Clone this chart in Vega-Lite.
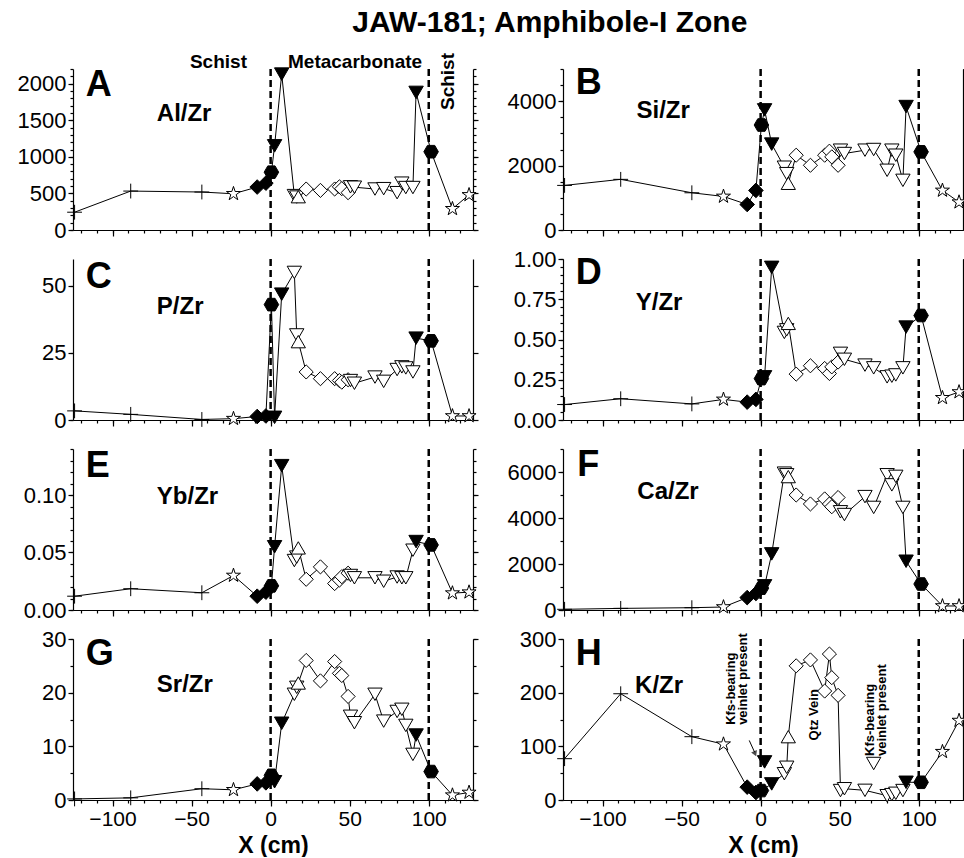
{
"$schema": "https://vega.github.io/schema/vega-lite/v6.json",
"padding": {"left": 17, "top": 7, "right": 0, "bottom": 0},
"title": {"text": "JAW-181; Amphibole-I Zone", "font": "Liberation Sans", "fontSize": 30, "fontWeight": "bold", "anchor": "middle", "dx": 57, "color": "black", "offset": 15},
"config": {"view": {"stroke": null}, "font": "Liberation Sans", "axis": {"grid": false, "domainColor": "black", "tickColor": "black", "labelColor": "black", "titleColor": "black", "labelFont": "Liberation Sans", "titleFont": "Liberation Sans", "labelFontSize": 22, "tickWidth": 1.2, "domainWidth": 1.2, "labelPadding": 2}},
"bounds": "flush",
"columns": 2,
"spacing": {"row": 29, "column": 90},
"datasets": {"d": [
{"p":"A","x":-124,"v":243,"m":"plus"},{"p":"A","x":-88.5,"v":532,"m":"plus"},{"p":"A","x":-43.5,"v":519,"m":"plus"},{"p":"A","x":-23.5,"v":495,"m":"star"},{"p":"A","x":-8.5,"v":587,"m":"fdia"},{"p":"A","x":-3,"v":640,"m":"fdia"},{"p":"A","x":0.5,"v":790,"m":"hex"},{"p":"A","x":2.5,"v":1150,"m":"ftri"},{"p":"A","x":7,"v":2130,"m":"ftri"},{"p":"A","x":15,"v":470,"m":"otri"},{"p":"A","x":16.5,"v":450,"m":"otri"},{"p":"A","x":17.5,"v":455,"m":"otriu"},{"p":"A","x":22.5,"v":560,"m":"odia"},{"p":"A","x":31.5,"v":541,"m":"odia"},{"p":"A","x":40.5,"v":560,"m":"odia"},{"p":"A","x":43.5,"v":590,"m":"odia"},{"p":"A","x":45,"v":565,"m":"odia"},{"p":"A","x":49,"v":510,"m":"odia"},{"p":"A","x":50.5,"v":590,"m":"otri"},{"p":"A","x":53,"v":585,"m":"otri"},{"p":"A","x":66,"v":560,"m":"otri"},{"p":"A","x":71.5,"v":565,"m":"otri"},{"p":"A","x":80,"v":510,"m":"otri"},{"p":"A","x":83,"v":640,"m":"otri"},{"p":"A","x":85.5,"v":580,"m":"otri"},{"p":"A","x":90,"v":580,"m":"otri"},{"p":"A","x":92,"v":1880,"m":"ftri"},{"p":"A","x":101.5,"v":1070,"m":"hex"},{"p":"A","x":115,"v":290,"m":"star"},{"p":"A","x":125.5,"v":480,"m":"star"},
{"p":"B","x":-124,"v":1385,"m":"plus"},{"p":"B","x":-88.5,"v":1573,"m":"plus"},{"p":"B","x":-43.5,"v":1156,"m":"plus"},{"p":"B","x":-23.5,"v":1042,"m":"star"},{"p":"B","x":-8.5,"v":792,"m":"fdia"},{"p":"B","x":-3,"v":1229,"m":"fdia"},{"p":"B","x":0.5,"v":3260,"m":"hex"},{"p":"B","x":2.5,"v":3730,"m":"ftri"},{"p":"B","x":7,"v":2667,"m":"ftri"},{"p":"B","x":15,"v":1950,"m":"otri"},{"p":"B","x":16.5,"v":1750,"m":"otri"},{"p":"B","x":17.5,"v":1450,"m":"otriu"},{"p":"B","x":22.5,"v":2323,"m":"odia"},{"p":"B","x":31.5,"v":2010,"m":"odia"},{"p":"B","x":40.5,"v":2323,"m":"odia"},{"p":"B","x":43.5,"v":2448,"m":"odia"},{"p":"B","x":45,"v":2271,"m":"odia"},{"p":"B","x":49,"v":2010,"m":"odia"},{"p":"B","x":50.5,"v":2479,"m":"otri"},{"p":"B","x":53,"v":2375,"m":"otri"},{"p":"B","x":66,"v":2479,"m":"otri"},{"p":"B","x":71.5,"v":2500,"m":"otri"},{"p":"B","x":80,"v":1854,"m":"otri"},{"p":"B","x":83,"v":2479,"m":"otri"},{"p":"B","x":85.5,"v":2323,"m":"otri"},{"p":"B","x":90,"v":1542,"m":"otri"},{"p":"B","x":92,"v":3833,"m":"ftri"},{"p":"B","x":101.5,"v":2427,"m":"hex"},{"p":"B","x":115,"v":1229,"m":"star"},{"p":"B","x":125.5,"v":865,"m":"star"},
{"p":"C","x":-124,"v":3.4,"m":"plus"},{"p":"C","x":-88.5,"v":2.1,"m":"plus"},{"p":"C","x":-43.5,"v":0.2,"m":"plus"},{"p":"C","x":-23.5,"v":0.5,"m":"star"},{"p":"C","x":-8.5,"v":1.3,"m":"fdia"},{"p":"C","x":-3,"v":1.5,"m":"fdia"},{"p":"C","x":0.5,"v":43,"m":"hex"},{"p":"C","x":2.5,"v":1.0,"m":"ftri"},{"p":"C","x":7,"v":46.9,"m":"ftri"},{"p":"C","x":15,"v":55,"m":"otri"},{"p":"C","x":16.5,"v":31.7,"m":"otri"},{"p":"C","x":17.5,"v":29.2,"m":"otriu"},{"p":"C","x":22.5,"v":17.9,"m":"odia"},{"p":"C","x":31.5,"v":15.4,"m":"odia"},{"p":"C","x":40.5,"v":15.4,"m":"odia"},{"p":"C","x":43.5,"v":14.7,"m":"odia"},{"p":"C","x":45,"v":14.1,"m":"odia"},{"p":"C","x":49,"v":15.0,"m":"odia"},{"p":"C","x":50.5,"v":14.7,"m":"otri"},{"p":"C","x":53,"v":13.7,"m":"otri"},{"p":"C","x":66,"v":16.0,"m":"otri"},{"p":"C","x":71.5,"v":14.4,"m":"otri"},{"p":"C","x":80,"v":18.8,"m":"otri"},{"p":"C","x":83,"v":19.8,"m":"otri"},{"p":"C","x":85.5,"v":19.4,"m":"otri"},{"p":"C","x":90,"v":17.9,"m":"otri"},{"p":"C","x":92,"v":30.5,"m":"ftri"},{"p":"C","x":101.5,"v":29.5,"m":"hex"},{"p":"C","x":115,"v":1.5,"m":"star"},{"p":"C","x":125.5,"v":1.5,"m":"star"},
{"p":"D","x":-124,"v":0.096,"m":"plus"},{"p":"D","x":-88.5,"v":0.132,"m":"plus"},{"p":"D","x":-43.5,"v":0.10,"m":"plus"},{"p":"D","x":-23.5,"v":0.128,"m":"star"},{"p":"D","x":-8.5,"v":0.111,"m":"fdia"},{"p":"D","x":-3,"v":0.128,"m":"fdia"},{"p":"D","x":0.5,"v":0.257,"m":"hex"},{"p":"D","x":2.5,"v":0.268,"m":"ftri"},{"p":"D","x":7,"v":0.948,"m":"ftri"},{"p":"D","x":15,"v":0.544,"m":"otri"},{"p":"D","x":16.5,"v":0.56,"m":"otri"},{"p":"D","x":17.5,"v":0.60,"m":"otriu"},{"p":"D","x":22.5,"v":0.285,"m":"odia"},{"p":"D","x":31.5,"v":0.337,"m":"odia"},{"p":"D","x":40.5,"v":0.32,"m":"odia"},{"p":"D","x":43.5,"v":0.289,"m":"odia"},{"p":"D","x":45,"v":0.33,"m":"odia"},{"p":"D","x":49,"v":0.36,"m":"odia"},{"p":"D","x":50.5,"v":0.414,"m":"otri"},{"p":"D","x":53,"v":0.377,"m":"otri"},{"p":"D","x":66,"v":0.341,"m":"otri"},{"p":"D","x":71.5,"v":0.324,"m":"otri"},{"p":"D","x":80,"v":0.268,"m":"otri"},{"p":"D","x":83,"v":0.272,"m":"otri"},{"p":"D","x":85.5,"v":0.28,"m":"otri"},{"p":"D","x":90,"v":0.324,"m":"otri"},{"p":"D","x":92,"v":0.577,"m":"ftri"},{"p":"D","x":101.5,"v":0.649,"m":"hex"},{"p":"D","x":115,"v":0.138,"m":"star"},{"p":"D","x":125.5,"v":0.174,"m":"star"},
{"p":"E","x":-124,"v":0.012,"m":"plus"},{"p":"E","x":-88.5,"v":0.0185,"m":"plus"},{"p":"E","x":-43.5,"v":0.015,"m":"plus"},{"p":"E","x":-23.5,"v":0.030,"m":"star"},{"p":"E","x":-8.5,"v":0.012,"m":"fdia"},{"p":"E","x":-3,"v":0.0155,"m":"fdia"},{"p":"E","x":0.5,"v":0.021,"m":"hex"},{"p":"E","x":2.5,"v":0.055,"m":"ftri"},{"p":"E","x":7,"v":0.1255,"m":"ftri"},{"p":"E","x":15,"v":0.043,"m":"otri"},{"p":"E","x":16.5,"v":0.046,"m":"otri"},{"p":"E","x":17.5,"v":0.054,"m":"otriu"},{"p":"E","x":22.5,"v":0.0267,"m":"odia"},{"p":"E","x":31.5,"v":0.0375,"m":"odia"},{"p":"E","x":40.5,"v":0.023,"m":"odia"},{"p":"E","x":43.5,"v":0.026,"m":"odia"},{"p":"E","x":45,"v":0.029,"m":"odia"},{"p":"E","x":49,"v":0.032,"m":"odia"},{"p":"E","x":50.5,"v":0.030,"m":"otri"},{"p":"E","x":53,"v":0.028,"m":"otri"},{"p":"E","x":66,"v":0.028,"m":"otri"},{"p":"E","x":71.5,"v":0.025,"m":"otri"},{"p":"E","x":80,"v":0.0287,"m":"otri"},{"p":"E","x":83,"v":0.028,"m":"otri"},{"p":"E","x":85.5,"v":0.028,"m":"otri"},{"p":"E","x":90,"v":0.052,"m":"otri"},{"p":"E","x":92,"v":0.0595,"m":"ftri"},{"p":"E","x":101.5,"v":0.0566,"m":"hex"},{"p":"E","x":115,"v":0.0147,"m":"star"},{"p":"E","x":125.5,"v":0.0155,"m":"star"},
{"p":"F","x":-124,"v":30,"m":"plus"},{"p":"F","x":-88.5,"v":70,"m":"plus"},{"p":"F","x":-43.5,"v":100,"m":"plus"},{"p":"F","x":-23.5,"v":130,"m":"star"},{"p":"F","x":-8.5,"v":540,"m":"fdia"},{"p":"F","x":-3,"v":717,"m":"fdia"},{"p":"F","x":0.5,"v":950,"m":"hex"},{"p":"F","x":2.5,"v":1050,"m":"ftri"},{"p":"F","x":7,"v":2440,"m":"ftri"},{"p":"F","x":15,"v":5950,"m":"otri"},{"p":"F","x":16.5,"v":5880,"m":"otri"},{"p":"F","x":17.5,"v":5800,"m":"otriu"},{"p":"F","x":22.5,"v":5000,"m":"odia"},{"p":"F","x":31.5,"v":4610,"m":"odia"},{"p":"F","x":40.5,"v":4830,"m":"odia"},{"p":"F","x":43.5,"v":4610,"m":"odia"},{"p":"F","x":45,"v":4490,"m":"odia"},{"p":"F","x":49,"v":4890,"m":"odia"},{"p":"F","x":50.5,"v":4270,"m":"otri"},{"p":"F","x":53,"v":4150,"m":"otri"},{"p":"F","x":66,"v":4930,"m":"otri"},{"p":"F","x":71.5,"v":4460,"m":"otri"},{"p":"F","x":80,"v":5880,"m":"otri"},{"p":"F","x":83,"v":5440,"m":"otri"},{"p":"F","x":85.5,"v":5810,"m":"otri"},{"p":"F","x":90,"v":4460,"m":"otri"},{"p":"F","x":92,"v":2120,"m":"ftri"},{"p":"F","x":101.5,"v":1130,"m":"hex"},{"p":"F","x":115,"v":175,"m":"star"},{"p":"F","x":125.5,"v":175,"m":"star"},
{"p":"G","x":-124,"v":0.2,"m":"plus"},{"p":"G","x":-88.5,"v":0.4,"m":"plus"},{"p":"G","x":-43.5,"v":2.1,"m":"plus"},{"p":"G","x":-23.5,"v":1.9,"m":"star"},{"p":"G","x":-8.5,"v":3.0,"m":"fdia"},{"p":"G","x":-3,"v":3.2,"m":"fdia"},{"p":"G","x":0.5,"v":4.6,"m":"hex"},{"p":"G","x":2.5,"v":3.4,"m":"ftri"},{"p":"G","x":7,"v":14.3,"m":"ftri"},{"p":"G","x":15,"v":19.7,"m":"otri"},{"p":"G","x":16.5,"v":21.0,"m":"otri"},{"p":"G","x":17.5,"v":21.8,"m":"otriu"},{"p":"G","x":22.5,"v":26,"m":"odia"},{"p":"G","x":31.5,"v":22.2,"m":"odia"},{"p":"G","x":40.5,"v":25.8,"m":"odia"},{"p":"G","x":43.5,"v":23.6,"m":"odia"},{"p":"G","x":45,"v":23.2,"m":"odia"},{"p":"G","x":49,"v":19.3,"m":"odia"},{"p":"G","x":50.5,"v":15.6,"m":"otri"},{"p":"G","x":53,"v":14.4,"m":"otri"},{"p":"G","x":66,"v":19.7,"m":"otri"},{"p":"G","x":71.5,"v":14.7,"m":"otri"},{"p":"G","x":80,"v":16.5,"m":"otri"},{"p":"G","x":83,"v":16.9,"m":"otri"},{"p":"G","x":85.5,"v":13.9,"m":"otri"},{"p":"G","x":90,"v":8.5,"m":"otri"},{"p":"G","x":92,"v":12.1,"m":"ftri"},{"p":"G","x":101.5,"v":5.3,"m":"hex"},{"p":"G","x":115,"v":0.9,"m":"star"},{"p":"G","x":125.5,"v":1.4,"m":"star"},
{"p":"H","x":-124,"v":77,"m":"plus"},{"p":"H","x":-88.5,"v":198,"m":"plus"},{"p":"H","x":-43.5,"v":118,"m":"plus"},{"p":"H","x":-23.5,"v":104,"m":"star"},{"p":"H","x":-8.5,"v":24,"m":"fdia"},{"p":"H","x":-3,"v":14,"m":"fdia"},{"p":"H","x":0.5,"v":17.6,"m":"hex"},{"p":"H","x":2.5,"v":71,"m":"ftri","iso":true},{"p":"H","x":7,"v":30,"m":"ftri"},{"p":"H","x":15,"v":49,"m":"otri"},{"p":"H","x":16.5,"v":61,"m":"otri"},{"p":"H","x":17.5,"v":118,"m":"otriu"},{"p":"H","x":22.5,"v":250,"m":"odia"},{"p":"H","x":31.5,"v":261,"m":"odia"},{"p":"H","x":40.5,"v":203,"m":"odia"},{"p":"H","x":43.5,"v":272,"m":"odia"},{"p":"H","x":45,"v":228,"m":"odia"},{"p":"H","x":49,"v":195,"m":"odia"},{"p":"H","x":50.5,"v":17.6,"m":"otri"},{"p":"H","x":53,"v":21,"m":"otri"},{"p":"H","x":66,"v":18,"m":"otri"},{"p":"H","x":71.5,"v":68,"m":"otri","iso":true},{"p":"H","x":80,"v":8,"m":"otri"},{"p":"H","x":83,"v":10,"m":"otri"},{"p":"H","x":85.5,"v":12.5,"m":"otri"},{"p":"H","x":90,"v":17.6,"m":"otri"},{"p":"H","x":92,"v":33,"m":"ftri"},{"p":"H","x":101.5,"v":33,"m":"hex"},{"p":"H","x":115,"v":90,"m":"star"},{"p":"H","x":125.5,"v":148,"m":"star"}
]},
"concat": [
{"width": 400, "height": 161, "data": {"name": "d"}, "resolve": {"axis": {"x": "independent", "y": "independent"}},
 "layer": [
  {"data": {"values": [{"b": 0}, {"b": 100}]}, "mark": {"type": "rule", "strokeDash": [7, 4], "strokeWidth": 2.5, "color": "black"}, "encoding": {"x": {"field": "b", "type": "quantitative", "scale": {"domain": [-125, 128], "nice": false, "zero": false}, "axis": null}}},
  {"transform": [{"filter": "datum.p == 'A' && !datum.iso"}], "mark": {"type": "line", "color": "black", "strokeWidth": 1}, "encoding": {"x": {"field": "x", "type": "quantitative", "scale": {"domain": [-125, 128], "nice": false, "zero": false}, "axis": {"orient": "bottom", "values": [-100, -50, 0, 50, 100], "labels": false, "title": null, "tickSize": 6}}, "y": {"field": "v", "type": "quantitative", "scale": {"domain": [0, 2200], "nice": false, "zero": false}, "axis": {"orient": "left", "values": [0, 500, 1000, 1500, 2000], "format": "d", "tickSize": 5, "title": null}}}},
  {"transform": [{"filter": "datum.p == 'A'"}], "mark": {"type": "point", "filled": true, "opacity": 1, "strokeWidth": 1}, "encoding": {"x": {"field": "x", "type": "quantitative", "scale": {"domain": [-125, 128], "nice": false, "zero": false}, "axis": {"orient": "bottom", "values": [-120,-110,-100,-90,-80,-70,-60,-50,-40,-30,-20,-10,0,10,20,30,40,50,60,70,80,90,100,110,120], "labels": false, "domain": false, "title": null, "tickSize": 3}}, "y": {"field": "v", "type": "quantitative", "scale": {"domain": [0, 2200], "nice": false, "zero": false}, "axis": {"orient": "left", "values": [0,100,200,300,400,500,600,700,800,900,1000,1100,1200,1300,1400,1500,1600,1700,1800,1900,2000,2100,2200], "labels": false, "domain": false, "tickSize": 3, "title": null}}, "shape": {"field": "m", "type": "nominal", "scale": {"domain": ["plus","star","fdia","hex","ftri","otri","otriu","odia"], "range": ["M-1,0L1,0M0,-1L0,1", "M0,-1L0.2245,-0.309L0.951,-0.309L0.3633,0.118L0.588,0.809L0,0.382L-0.588,0.809L-0.3633,0.118L-0.951,-0.309L-0.2245,-0.309Z", "diamond", "M-1,0L-0.5,-0.866L0.5,-0.866L1,0L0.5,0.866L-0.5,0.866Z", "triangle-down", "triangle-down", "triangle-up", "diamond"]}, "legend": null}, "fill": {"field": "m", "type": "nominal", "scale": {"domain": ["plus","star","fdia","hex","ftri","otri","otriu","odia"], "range": ["transparent","white","black","black","black","white","white","white"]}, "legend": null}, "size": {"field": "m", "type": "ordinal", "scale": {"domain": ["plus","star","fdia","hex","ftri","otri","otriu","odia"], "range": [220, 200, 150, 230, 210, 95, 95, 110]}, "legend": null}, "stroke": {"value": "black"}}},
  {"transform": [{"filter": "datum.p == 'A'"}], "mark": {"type": "point", "opacity": 0}, "encoding": {"x": {"field": "x", "type": "quantitative", "scale": {"domain": [-125, 128], "nice": false, "zero": false}, "axis": null}, "y": {"field": "v", "type": "quantitative", "scale": {"domain": [0, 2200], "nice": false, "zero": false}, "axis": {"orient": "right", "values": [0, 500, 1000, 1500, 2000], "labels": false, "tickSize": 5, "title": null}}}},
  {"transform": [{"filter": "datum.p == 'A'"}], "mark": {"type": "point", "opacity": 0}, "encoding": {"x": {"field": "x", "type": "quantitative", "scale": {"domain": [-125, 128], "nice": false, "zero": false}, "axis": null}, "y": {"field": "v", "type": "quantitative", "scale": {"domain": [0, 2200], "nice": false, "zero": false}, "axis": {"orient": "right", "values": [0,100,200,300,400,500,600,700,800,900,1000,1100,1200,1300,1400,1500,1600,1700,1800,1900,2000,2100,2200], "labels": false, "domain": false, "tickSize": 3, "title": null}}}},
  {"data": {"values": [{}]}, "mark": {"type": "text", "text": "A", "fontSize": 36, "fontWeight": "bold", "align": "left", "baseline": "alphabetic", "color": "black"}, "encoding": {"x": {"datum": -117, "axis": null}, "y": {"datum": 1831, "axis": null}}},
  {"data": {"values": [{}]}, "mark": {"type": "text", "text": "Al/Zr", "fontSize": 24, "fontWeight": "bold", "align": "left", "baseline": "alphabetic", "color": "black"}, "encoding": {"x": {"datum": -72, "axis": null}, "y": {"datum": 1489, "axis": null}}},
  {"data": {"values": [{}]}, "mark": {"type": "text", "text": "Schist", "fontSize": 19, "fontWeight": "bold", "align": "center", "baseline": "alphabetic", "color": "black"}, "encoding": {"x": {"datum": -33, "axis": null}, "y": {"datum": 2215, "axis": null}}},
  {"data": {"values": [{}]}, "mark": {"type": "text", "text": "Metacarbonate", "fontSize": 19, "fontWeight": "bold", "align": "center", "baseline": "alphabetic", "color": "black"}, "encoding": {"x": {"datum": 53.4, "axis": null}, "y": {"datum": 2215, "axis": null}}},
  {"data": {"values": [{}]}, "mark": {"type": "text", "text": "Schist", "fontSize": 19, "fontWeight": "bold", "align": "center", "baseline": "middle", "angle": 270, "color": "black"}, "encoding": {"x": {"datum": 112, "axis": null}, "y": {"datum": 2029, "axis": null}}}
 ]},
{"width": 400, "height": 161, "data": {"name": "d"}, "resolve": {"axis": {"x": "independent", "y": "independent"}},
 "layer": [
  {"data": {"values": [{"b": 0}, {"b": 100}]}, "mark": {"type": "rule", "strokeDash": [7, 4], "strokeWidth": 2.5, "color": "black"}, "encoding": {"x": {"field": "b", "type": "quantitative", "scale": {"domain": [-125, 128], "nice": false, "zero": false}, "axis": null}}},
  {"transform": [{"filter": "datum.p == 'B' && !datum.iso"}], "mark": {"type": "line", "color": "black", "strokeWidth": 1}, "encoding": {"x": {"field": "x", "type": "quantitative", "scale": {"domain": [-125, 128], "nice": false, "zero": false}, "axis": {"orient": "bottom", "values": [-100, -50, 0, 50, 100], "labels": false, "title": null, "tickSize": 6}}, "y": {"field": "v", "type": "quantitative", "scale": {"domain": [0, 5000], "nice": false, "zero": false}, "axis": {"orient": "left", "values": [0, 2000, 4000], "format": "d", "tickSize": 5, "title": null}}}},
  {"transform": [{"filter": "datum.p == 'B'"}], "mark": {"type": "point", "filled": true, "opacity": 1, "strokeWidth": 1}, "encoding": {"x": {"field": "x", "type": "quantitative", "scale": {"domain": [-125, 128], "nice": false, "zero": false}, "axis": {"orient": "bottom", "values": [-120,-110,-100,-90,-80,-70,-60,-50,-40,-30,-20,-10,0,10,20,30,40,50,60,70,80,90,100,110,120], "labels": false, "domain": false, "title": null, "tickSize": 3}}, "y": {"field": "v", "type": "quantitative", "scale": {"domain": [0, 5000], "nice": false, "zero": false}, "axis": {"orient": "left", "values": [0,500,1000,1500,2000,2500,3000,3500,4000,4500,5000], "labels": false, "domain": false, "tickSize": 3, "title": null}}, "shape": {"field": "m", "type": "nominal", "scale": {"domain": ["plus","star","fdia","hex","ftri","otri","otriu","odia"], "range": ["M-1,0L1,0M0,-1L0,1", "M0,-1L0.2245,-0.309L0.951,-0.309L0.3633,0.118L0.588,0.809L0,0.382L-0.588,0.809L-0.3633,0.118L-0.951,-0.309L-0.2245,-0.309Z", "diamond", "M-1,0L-0.5,-0.866L0.5,-0.866L1,0L0.5,0.866L-0.5,0.866Z", "triangle-down", "triangle-down", "triangle-up", "diamond"]}, "legend": null}, "fill": {"field": "m", "type": "nominal", "scale": {"domain": ["plus","star","fdia","hex","ftri","otri","otriu","odia"], "range": ["transparent","white","black","black","black","white","white","white"]}, "legend": null}, "size": {"field": "m", "type": "ordinal", "scale": {"domain": ["plus","star","fdia","hex","ftri","otri","otriu","odia"], "range": [220, 200, 150, 230, 210, 95, 95, 110]}, "legend": null}, "stroke": {"value": "black"}}},
  {"transform": [{"filter": "datum.p == 'B'"}], "mark": {"type": "point", "opacity": 0}, "encoding": {"x": {"field": "x", "type": "quantitative", "scale": {"domain": [-125, 128], "nice": false, "zero": false}, "axis": null}, "y": {"field": "v", "type": "quantitative", "scale": {"domain": [0, 5000], "nice": false, "zero": false}, "axis": {"orient": "right", "values": [0, 1000, 2000, 3000, 4000, 5000], "labels": false, "tickSize": 5, "title": null}}}},
  {"transform": [{"filter": "datum.p == 'B'"}], "mark": {"type": "point", "opacity": 0}, "encoding": {"x": {"field": "x", "type": "quantitative", "scale": {"domain": [-125, 128], "nice": false, "zero": false}, "axis": null}, "y": {"field": "v", "type": "quantitative", "scale": {"domain": [0, 5000], "nice": false, "zero": false}, "axis": {"orient": "right", "values": [0,500,1000,1500,2000,2500,3000,3500,4000,4500,5000], "labels": false, "domain": false, "tickSize": 3, "title": null}}}},
  {"data": {"values": [{}]}, "mark": {"type": "text", "text": "B", "fontSize": 36, "fontWeight": "bold", "align": "left", "baseline": "alphabetic", "color": "black"}, "encoding": {"x": {"datum": -117, "axis": null}, "y": {"datum": 4224, "axis": null}}},
  {"data": {"values": [{}]}, "mark": {"type": "text", "text": "Si/Zr", "fontSize": 24, "fontWeight": "bold", "align": "left", "baseline": "alphabetic", "color": "black"}, "encoding": {"x": {"datum": -78.5, "axis": null}, "y": {"datum": 3478, "axis": null}}}
 ]},
{"width": 400, "height": 161, "data": {"name": "d"}, "resolve": {"axis": {"x": "independent", "y": "independent"}},
 "layer": [
  {"data": {"values": [{"b": 0}, {"b": 100}]}, "mark": {"type": "rule", "strokeDash": [7, 4], "strokeWidth": 2.5, "color": "black"}, "encoding": {"x": {"field": "b", "type": "quantitative", "scale": {"domain": [-125, 128], "nice": false, "zero": false}, "axis": null}}},
  {"transform": [{"filter": "datum.p == 'C' && !datum.iso"}], "mark": {"type": "line", "color": "black", "strokeWidth": 1}, "encoding": {"x": {"field": "x", "type": "quantitative", "scale": {"domain": [-125, 128], "nice": false, "zero": false}, "axis": {"orient": "bottom", "values": [-100, -50, 0, 50, 100], "labels": false, "title": null, "tickSize": 6}}, "y": {"field": "v", "type": "quantitative", "scale": {"domain": [0, 60], "nice": false, "zero": false}, "axis": {"orient": "left", "values": [0, 25, 50], "format": "d", "tickSize": 5, "title": null}}}},
  {"transform": [{"filter": "datum.p == 'C'"}], "mark": {"type": "point", "filled": true, "opacity": 1, "strokeWidth": 1}, "encoding": {"x": {"field": "x", "type": "quantitative", "scale": {"domain": [-125, 128], "nice": false, "zero": false}, "axis": {"orient": "bottom", "values": [-120,-110,-100,-90,-80,-70,-60,-50,-40,-30,-20,-10,0,10,20,30,40,50,60,70,80,90,100,110,120], "labels": false, "domain": false, "title": null, "tickSize": 3}}, "y": {"field": "v", "type": "quantitative", "scale": {"domain": [0, 60], "nice": false, "zero": false}, "axis": {"orient": "left", "values": [0, 25, 50], "labels": false, "domain": false, "tickSize": 3, "title": null}}, "shape": {"field": "m", "type": "nominal", "scale": {"domain": ["plus","star","fdia","hex","ftri","otri","otriu","odia"], "range": ["M-1,0L1,0M0,-1L0,1", "M0,-1L0.2245,-0.309L0.951,-0.309L0.3633,0.118L0.588,0.809L0,0.382L-0.588,0.809L-0.3633,0.118L-0.951,-0.309L-0.2245,-0.309Z", "diamond", "M-1,0L-0.5,-0.866L0.5,-0.866L1,0L0.5,0.866L-0.5,0.866Z", "triangle-down", "triangle-down", "triangle-up", "diamond"]}, "legend": null}, "fill": {"field": "m", "type": "nominal", "scale": {"domain": ["plus","star","fdia","hex","ftri","otri","otriu","odia"], "range": ["transparent","white","black","black","black","white","white","white"]}, "legend": null}, "size": {"field": "m", "type": "ordinal", "scale": {"domain": ["plus","star","fdia","hex","ftri","otri","otriu","odia"], "range": [220, 200, 150, 230, 210, 95, 95, 110]}, "legend": null}, "stroke": {"value": "black"}}},
  {"transform": [{"filter": "datum.p == 'C'"}], "mark": {"type": "point", "opacity": 0}, "encoding": {"x": {"field": "x", "type": "quantitative", "scale": {"domain": [-125, 128], "nice": false, "zero": false}, "axis": null}, "y": {"field": "v", "type": "quantitative", "scale": {"domain": [0, 60], "nice": false, "zero": false}, "axis": {"orient": "right", "values": [0, 25, 50], "labels": false, "tickSize": 5, "title": null}}}},
  {"data": {"values": [{}]}, "mark": {"type": "text", "text": "C", "fontSize": 36, "fontWeight": "bold", "align": "left", "baseline": "alphabetic", "color": "black"}, "encoding": {"x": {"datum": -117, "axis": null}, "y": {"datum": 49.2, "axis": null}}},
  {"data": {"values": [{}]}, "mark": {"type": "text", "text": "P/Zr", "fontSize": 24, "fontWeight": "bold", "align": "left", "baseline": "alphabetic", "color": "black"}, "encoding": {"x": {"datum": -72, "axis": null}, "y": {"datum": 39.5, "axis": null}}}
 ]},
{"width": 400, "height": 161, "data": {"name": "d"}, "resolve": {"axis": {"x": "independent", "y": "independent"}},
 "layer": [
  {"data": {"values": [{"b": 0}, {"b": 100}]}, "mark": {"type": "rule", "strokeDash": [7, 4], "strokeWidth": 2.5, "color": "black"}, "encoding": {"x": {"field": "b", "type": "quantitative", "scale": {"domain": [-125, 128], "nice": false, "zero": false}, "axis": null}}},
  {"transform": [{"filter": "datum.p == 'D' && !datum.iso"}], "mark": {"type": "line", "color": "black", "strokeWidth": 1}, "encoding": {"x": {"field": "x", "type": "quantitative", "scale": {"domain": [-125, 128], "nice": false, "zero": false}, "axis": {"orient": "bottom", "values": [-100, -50, 0, 50, 100], "labels": false, "title": null, "tickSize": 6}}, "y": {"field": "v", "type": "quantitative", "scale": {"domain": [0, 1], "nice": false, "zero": false}, "axis": {"orient": "left", "values": [0, 0.25, 0.5, 0.75, 1], "format": ".2f", "tickSize": 5, "title": null}}}},
  {"transform": [{"filter": "datum.p == 'D'"}], "mark": {"type": "point", "filled": true, "opacity": 1, "strokeWidth": 1}, "encoding": {"x": {"field": "x", "type": "quantitative", "scale": {"domain": [-125, 128], "nice": false, "zero": false}, "axis": {"orient": "bottom", "values": [-120,-110,-100,-90,-80,-70,-60,-50,-40,-30,-20,-10,0,10,20,30,40,50,60,70,80,90,100,110,120], "labels": false, "domain": false, "title": null, "tickSize": 3}}, "y": {"field": "v", "type": "quantitative", "scale": {"domain": [0, 1], "nice": false, "zero": false}, "axis": {"orient": "left", "values": [0,0.05,0.1,0.15,0.2,0.25,0.3,0.35,0.4,0.45,0.5,0.55,0.6,0.65,0.7,0.75,0.8,0.85,0.9,0.95,1], "labels": false, "domain": false, "tickSize": 3, "title": null}}, "shape": {"field": "m", "type": "nominal", "scale": {"domain": ["plus","star","fdia","hex","ftri","otri","otriu","odia"], "range": ["M-1,0L1,0M0,-1L0,1", "M0,-1L0.2245,-0.309L0.951,-0.309L0.3633,0.118L0.588,0.809L0,0.382L-0.588,0.809L-0.3633,0.118L-0.951,-0.309L-0.2245,-0.309Z", "diamond", "M-1,0L-0.5,-0.866L0.5,-0.866L1,0L0.5,0.866L-0.5,0.866Z", "triangle-down", "triangle-down", "triangle-up", "diamond"]}, "legend": null}, "fill": {"field": "m", "type": "nominal", "scale": {"domain": ["plus","star","fdia","hex","ftri","otri","otriu","odia"], "range": ["transparent","white","black","black","black","white","white","white"]}, "legend": null}, "size": {"field": "m", "type": "ordinal", "scale": {"domain": ["plus","star","fdia","hex","ftri","otri","otriu","odia"], "range": [220, 200, 150, 230, 210, 95, 95, 110]}, "legend": null}, "stroke": {"value": "black"}}},
  {"transform": [{"filter": "datum.p == 'D'"}], "mark": {"type": "point", "opacity": 0}, "encoding": {"x": {"field": "x", "type": "quantitative", "scale": {"domain": [-125, 128], "nice": false, "zero": false}, "axis": null}, "y": {"field": "v", "type": "quantitative", "scale": {"domain": [0, 1], "nice": false, "zero": false}, "axis": {"orient": "right", "values": [0, 0.25, 0.5, 0.75, 1], "labels": false, "tickSize": 5, "title": null}}}},
  {"transform": [{"filter": "datum.p == 'D'"}], "mark": {"type": "point", "opacity": 0}, "encoding": {"x": {"field": "x", "type": "quantitative", "scale": {"domain": [-125, 128], "nice": false, "zero": false}, "axis": null}, "y": {"field": "v", "type": "quantitative", "scale": {"domain": [0, 1], "nice": false, "zero": false}, "axis": {"orient": "right", "values": [0,0.05,0.1,0.15,0.2,0.25,0.3,0.35,0.4,0.45,0.5,0.55,0.6,0.65,0.7,0.75,0.8,0.85,0.9,0.95,1], "labels": false, "domain": false, "tickSize": 3, "title": null}}}},
  {"data": {"values": [{}]}, "mark": {"type": "text", "text": "D", "fontSize": 36, "fontWeight": "bold", "align": "left", "baseline": "alphabetic", "color": "black"}, "encoding": {"x": {"datum": -117, "axis": null}, "y": {"datum": 0.845, "axis": null}}},
  {"data": {"values": [{}]}, "mark": {"type": "text", "text": "Y/Zr", "fontSize": 24, "fontWeight": "bold", "align": "left", "baseline": "alphabetic", "color": "black"}, "encoding": {"x": {"datum": -79, "axis": null}, "y": {"datum": 0.683, "axis": null}}}
 ]},
{"width": 400, "height": 161, "data": {"name": "d"}, "resolve": {"axis": {"x": "independent", "y": "independent"}},
 "layer": [
  {"data": {"values": [{"b": 0}, {"b": 100}]}, "mark": {"type": "rule", "strokeDash": [7, 4], "strokeWidth": 2.5, "color": "black"}, "encoding": {"x": {"field": "b", "type": "quantitative", "scale": {"domain": [-125, 128], "nice": false, "zero": false}, "axis": null}}},
  {"transform": [{"filter": "datum.p == 'E' && !datum.iso"}], "mark": {"type": "line", "color": "black", "strokeWidth": 1}, "encoding": {"x": {"field": "x", "type": "quantitative", "scale": {"domain": [-125, 128], "nice": false, "zero": false}, "axis": {"orient": "bottom", "values": [-100, -50, 0, 50, 100], "labels": false, "title": null, "tickSize": 6}}, "y": {"field": "v", "type": "quantitative", "scale": {"domain": [0, 0.14], "nice": false, "zero": false}, "axis": {"orient": "left", "values": [0, 0.05, 0.1], "format": ".2f", "tickSize": 5, "title": null}}}},
  {"transform": [{"filter": "datum.p == 'E'"}], "mark": {"type": "point", "filled": true, "opacity": 1, "strokeWidth": 1}, "encoding": {"x": {"field": "x", "type": "quantitative", "scale": {"domain": [-125, 128], "nice": false, "zero": false}, "axis": {"orient": "bottom", "values": [-120,-110,-100,-90,-80,-70,-60,-50,-40,-30,-20,-10,0,10,20,30,40,50,60,70,80,90,100,110,120], "labels": false, "domain": false, "title": null, "tickSize": 3}}, "y": {"field": "v", "type": "quantitative", "scale": {"domain": [0, 0.14], "nice": false, "zero": false}, "axis": {"orient": "left", "values": [0,0.01,0.02,0.03,0.04,0.05,0.06,0.07,0.08,0.09,0.1,0.11,0.12,0.13,0.14], "labels": false, "domain": false, "tickSize": 3, "title": null}}, "shape": {"field": "m", "type": "nominal", "scale": {"domain": ["plus","star","fdia","hex","ftri","otri","otriu","odia"], "range": ["M-1,0L1,0M0,-1L0,1", "M0,-1L0.2245,-0.309L0.951,-0.309L0.3633,0.118L0.588,0.809L0,0.382L-0.588,0.809L-0.3633,0.118L-0.951,-0.309L-0.2245,-0.309Z", "diamond", "M-1,0L-0.5,-0.866L0.5,-0.866L1,0L0.5,0.866L-0.5,0.866Z", "triangle-down", "triangle-down", "triangle-up", "diamond"]}, "legend": null}, "fill": {"field": "m", "type": "nominal", "scale": {"domain": ["plus","star","fdia","hex","ftri","otri","otriu","odia"], "range": ["transparent","white","black","black","black","white","white","white"]}, "legend": null}, "size": {"field": "m", "type": "ordinal", "scale": {"domain": ["plus","star","fdia","hex","ftri","otri","otriu","odia"], "range": [220, 200, 150, 230, 210, 95, 95, 110]}, "legend": null}, "stroke": {"value": "black"}}},
  {"transform": [{"filter": "datum.p == 'E'"}], "mark": {"type": "point", "opacity": 0}, "encoding": {"x": {"field": "x", "type": "quantitative", "scale": {"domain": [-125, 128], "nice": false, "zero": false}, "axis": null}, "y": {"field": "v", "type": "quantitative", "scale": {"domain": [0, 0.14], "nice": false, "zero": false}, "axis": {"orient": "right", "values": [0, 0.05, 0.1], "labels": false, "tickSize": 5, "title": null}}}},
  {"transform": [{"filter": "datum.p == 'E'"}], "mark": {"type": "point", "opacity": 0}, "encoding": {"x": {"field": "x", "type": "quantitative", "scale": {"domain": [-125, 128], "nice": false, "zero": false}, "axis": null}, "y": {"field": "v", "type": "quantitative", "scale": {"domain": [0, 0.14], "nice": false, "zero": false}, "axis": {"orient": "right", "values": [0,0.01,0.02,0.03,0.04,0.05,0.06,0.07,0.08,0.09,0.1,0.11,0.12,0.13,0.14], "labels": false, "domain": false, "tickSize": 3, "title": null}}}},
  {"data": {"values": [{}]}, "mark": {"type": "text", "text": "E", "fontSize": 36, "fontWeight": "bold", "align": "left", "baseline": "alphabetic", "color": "black"}, "encoding": {"x": {"datum": -117, "axis": null}, "y": {"datum": 0.1156, "axis": null}}},
  {"data": {"values": [{}]}, "mark": {"type": "text", "text": "Yb/Zr", "fontSize": 24, "fontWeight": "bold", "align": "left", "baseline": "alphabetic", "color": "black"}, "encoding": {"x": {"datum": -72, "axis": null}, "y": {"datum": 0.0922, "axis": null}}}
 ]},
{"width": 400, "height": 161, "data": {"name": "d"}, "resolve": {"axis": {"x": "independent", "y": "independent"}},
 "layer": [
  {"data": {"values": [{"b": 0}, {"b": 100}]}, "mark": {"type": "rule", "strokeDash": [7, 4], "strokeWidth": 2.5, "color": "black"}, "encoding": {"x": {"field": "b", "type": "quantitative", "scale": {"domain": [-125, 128], "nice": false, "zero": false}, "axis": null}}},
  {"transform": [{"filter": "datum.p == 'F' && !datum.iso"}], "mark": {"type": "line", "color": "black", "strokeWidth": 1}, "encoding": {"x": {"field": "x", "type": "quantitative", "scale": {"domain": [-125, 128], "nice": false, "zero": false}, "axis": {"orient": "bottom", "values": [-100, -50, 0, 50, 100], "labels": false, "title": null, "tickSize": 6}}, "y": {"field": "v", "type": "quantitative", "scale": {"domain": [0, 7000], "nice": false, "zero": false}, "axis": {"orient": "left", "values": [0, 2000, 4000, 6000], "format": "d", "tickSize": 5, "title": null}}}},
  {"transform": [{"filter": "datum.p == 'F'"}], "mark": {"type": "point", "filled": true, "opacity": 1, "strokeWidth": 1}, "encoding": {"x": {"field": "x", "type": "quantitative", "scale": {"domain": [-125, 128], "nice": false, "zero": false}, "axis": {"orient": "bottom", "values": [-120,-110,-100,-90,-80,-70,-60,-50,-40,-30,-20,-10,0,10,20,30,40,50,60,70,80,90,100,110,120], "labels": false, "domain": false, "title": null, "tickSize": 3}}, "y": {"field": "v", "type": "quantitative", "scale": {"domain": [0, 7000], "nice": false, "zero": false}, "axis": {"orient": "left", "values": [0,1000,2000,3000,4000,5000,6000,7000], "labels": false, "domain": false, "tickSize": 3, "title": null}}, "shape": {"field": "m", "type": "nominal", "scale": {"domain": ["plus","star","fdia","hex","ftri","otri","otriu","odia"], "range": ["M-1,0L1,0M0,-1L0,1", "M0,-1L0.2245,-0.309L0.951,-0.309L0.3633,0.118L0.588,0.809L0,0.382L-0.588,0.809L-0.3633,0.118L-0.951,-0.309L-0.2245,-0.309Z", "diamond", "M-1,0L-0.5,-0.866L0.5,-0.866L1,0L0.5,0.866L-0.5,0.866Z", "triangle-down", "triangle-down", "triangle-up", "diamond"]}, "legend": null}, "fill": {"field": "m", "type": "nominal", "scale": {"domain": ["plus","star","fdia","hex","ftri","otri","otriu","odia"], "range": ["transparent","white","black","black","black","white","white","white"]}, "legend": null}, "size": {"field": "m", "type": "ordinal", "scale": {"domain": ["plus","star","fdia","hex","ftri","otri","otriu","odia"], "range": [220, 200, 150, 230, 210, 95, 95, 110]}, "legend": null}, "stroke": {"value": "black"}}},
  {"transform": [{"filter": "datum.p == 'F'"}], "mark": {"type": "point", "opacity": 0}, "encoding": {"x": {"field": "x", "type": "quantitative", "scale": {"domain": [-125, 128], "nice": false, "zero": false}, "axis": null}, "y": {"field": "v", "type": "quantitative", "scale": {"domain": [0, 7000], "nice": false, "zero": false}, "axis": {"orient": "right", "values": [0, 2000, 4000, 6000], "labels": false, "tickSize": 5, "title": null}}}},
  {"transform": [{"filter": "datum.p == 'F'"}], "mark": {"type": "point", "opacity": 0}, "encoding": {"x": {"field": "x", "type": "quantitative", "scale": {"domain": [-125, 128], "nice": false, "zero": false}, "axis": null}, "y": {"field": "v", "type": "quantitative", "scale": {"domain": [0, 7000], "nice": false, "zero": false}, "axis": {"orient": "right", "values": [0,1000,2000,3000,4000,5000,6000,7000], "labels": false, "domain": false, "tickSize": 3, "title": null}}}},
  {"data": {"values": [{}]}, "mark": {"type": "text", "text": "F", "fontSize": 36, "fontWeight": "bold", "align": "left", "baseline": "alphabetic", "color": "black"}, "encoding": {"x": {"datum": -116, "axis": null}, "y": {"datum": 5826, "axis": null}}},
  {"data": {"values": [{}]}, "mark": {"type": "text", "text": "Ca/Zr", "fontSize": 24, "fontWeight": "bold", "align": "left", "baseline": "alphabetic", "color": "black"}, "encoding": {"x": {"datum": -78, "axis": null}, "y": {"datum": 4826, "axis": null}}}
 ]},
{"width": 400, "height": 161, "data": {"name": "d"}, "resolve": {"axis": {"x": "independent", "y": "independent"}},
 "layer": [
  {"data": {"values": [{"b": 0}, {"b": 100}]}, "mark": {"type": "rule", "strokeDash": [7, 4], "strokeWidth": 2.5, "color": "black"}, "encoding": {"x": {"field": "b", "type": "quantitative", "scale": {"domain": [-125, 128], "nice": false, "zero": false}, "axis": null}}},
  {"transform": [{"filter": "datum.p == 'G' && !datum.iso"}], "mark": {"type": "line", "color": "black", "strokeWidth": 1}, "encoding": {"x": {"field": "x", "type": "quantitative", "scale": {"domain": [-125, 128], "nice": false, "zero": false}, "axis": {"orient": "bottom", "values": [-100, -50, 0, 50, 100], "labels": true, "format": "d", "labelFontSize": 21, "labelPadding": 2, "title": "X (cm)", "titleFontSize": 23, "titleFontWeight": "bold", "titlePadding": 5, "tickSize": 6}}, "y": {"field": "v", "type": "quantitative", "scale": {"domain": [0, 30], "nice": false, "zero": false}, "axis": {"orient": "left", "values": [0, 10, 20, 30], "format": "d", "tickSize": 5, "title": null}}}},
  {"transform": [{"filter": "datum.p == 'G'"}], "mark": {"type": "point", "filled": true, "opacity": 1, "strokeWidth": 1}, "encoding": {"x": {"field": "x", "type": "quantitative", "scale": {"domain": [-125, 128], "nice": false, "zero": false}, "axis": {"orient": "bottom", "values": [-120,-110,-100,-90,-80,-70,-60,-50,-40,-30,-20,-10,0,10,20,30,40,50,60,70,80,90,100,110,120], "labels": false, "domain": false, "title": null, "tickSize": 3}}, "y": {"field": "v", "type": "quantitative", "scale": {"domain": [0, 30], "nice": false, "zero": false}, "axis": {"orient": "left", "values": [0,5,10,15,20,25,30], "labels": false, "domain": false, "tickSize": 3, "title": null}}, "shape": {"field": "m", "type": "nominal", "scale": {"domain": ["plus","star","fdia","hex","ftri","otri","otriu","odia"], "range": ["M-1,0L1,0M0,-1L0,1", "M0,-1L0.2245,-0.309L0.951,-0.309L0.3633,0.118L0.588,0.809L0,0.382L-0.588,0.809L-0.3633,0.118L-0.951,-0.309L-0.2245,-0.309Z", "diamond", "M-1,0L-0.5,-0.866L0.5,-0.866L1,0L0.5,0.866L-0.5,0.866Z", "triangle-down", "triangle-down", "triangle-up", "diamond"]}, "legend": null}, "fill": {"field": "m", "type": "nominal", "scale": {"domain": ["plus","star","fdia","hex","ftri","otri","otriu","odia"], "range": ["transparent","white","black","black","black","white","white","white"]}, "legend": null}, "size": {"field": "m", "type": "ordinal", "scale": {"domain": ["plus","star","fdia","hex","ftri","otri","otriu","odia"], "range": [220, 200, 150, 230, 210, 95, 95, 110]}, "legend": null}, "stroke": {"value": "black"}}},
  {"transform": [{"filter": "datum.p == 'G'"}], "mark": {"type": "point", "opacity": 0}, "encoding": {"x": {"field": "x", "type": "quantitative", "scale": {"domain": [-125, 128], "nice": false, "zero": false}, "axis": null}, "y": {"field": "v", "type": "quantitative", "scale": {"domain": [0, 30], "nice": false, "zero": false}, "axis": {"orient": "right", "values": [0, 10, 20, 30], "labels": false, "tickSize": 5, "title": null}}}},
  {"transform": [{"filter": "datum.p == 'G'"}], "mark": {"type": "point", "opacity": 0}, "encoding": {"x": {"field": "x", "type": "quantitative", "scale": {"domain": [-125, 128], "nice": false, "zero": false}, "axis": null}, "y": {"field": "v", "type": "quantitative", "scale": {"domain": [0, 30], "nice": false, "zero": false}, "axis": {"orient": "right", "values": [0,5,10,15,20,25,30], "labels": false, "domain": false, "tickSize": 3, "title": null}}}},
  {"data": {"values": [{}]}, "mark": {"type": "text", "text": "G", "fontSize": 36, "fontWeight": "bold", "align": "left", "baseline": "alphabetic", "color": "black"}, "encoding": {"x": {"datum": -117, "axis": null}, "y": {"datum": 25.16, "axis": null}}},
  {"data": {"values": [{}]}, "mark": {"type": "text", "text": "Sr/Zr", "fontSize": 24, "fontWeight": "bold", "align": "left", "baseline": "alphabetic", "color": "black"}, "encoding": {"x": {"datum": -72, "axis": null}, "y": {"datum": 20.1, "axis": null}}}
 ]},
{"width": 400, "height": 161, "data": {"name": "d"}, "resolve": {"axis": {"x": "independent", "y": "independent"}},
 "layer": [
  {"data": {"values": [{"b": 0}, {"b": 100}]}, "mark": {"type": "rule", "strokeDash": [7, 4], "strokeWidth": 2.5, "color": "black"}, "encoding": {"x": {"field": "b", "type": "quantitative", "scale": {"domain": [-125, 128], "nice": false, "zero": false}, "axis": null}}},
  {"transform": [{"filter": "datum.p == 'H' && !datum.iso"}], "mark": {"type": "line", "color": "black", "strokeWidth": 1}, "encoding": {"x": {"field": "x", "type": "quantitative", "scale": {"domain": [-125, 128], "nice": false, "zero": false}, "axis": {"orient": "bottom", "values": [-100, -50, 0, 50, 100], "labels": true, "format": "d", "labelFontSize": 21, "labelPadding": 2, "title": "X (cm)", "titleFontSize": 23, "titleFontWeight": "bold", "titlePadding": 5, "tickSize": 6}}, "y": {"field": "v", "type": "quantitative", "scale": {"domain": [0, 300], "nice": false, "zero": false}, "axis": {"orient": "left", "values": [0, 100, 200, 300], "format": "d", "tickSize": 5, "title": null}}}},
  {"transform": [{"filter": "datum.p == 'H'"}], "mark": {"type": "point", "filled": true, "opacity": 1, "strokeWidth": 1}, "encoding": {"x": {"field": "x", "type": "quantitative", "scale": {"domain": [-125, 128], "nice": false, "zero": false}, "axis": {"orient": "bottom", "values": [-120,-110,-100,-90,-80,-70,-60,-50,-40,-30,-20,-10,0,10,20,30,40,50,60,70,80,90,100,110,120], "labels": false, "domain": false, "title": null, "tickSize": 3}}, "y": {"field": "v", "type": "quantitative", "scale": {"domain": [0, 300], "nice": false, "zero": false}, "axis": {"orient": "left", "values": [0,50,100,150,200,250,300], "labels": false, "domain": false, "tickSize": 3, "title": null}}, "shape": {"field": "m", "type": "nominal", "scale": {"domain": ["plus","star","fdia","hex","ftri","otri","otriu","odia"], "range": ["M-1,0L1,0M0,-1L0,1", "M0,-1L0.2245,-0.309L0.951,-0.309L0.3633,0.118L0.588,0.809L0,0.382L-0.588,0.809L-0.3633,0.118L-0.951,-0.309L-0.2245,-0.309Z", "diamond", "M-1,0L-0.5,-0.866L0.5,-0.866L1,0L0.5,0.866L-0.5,0.866Z", "triangle-down", "triangle-down", "triangle-up", "diamond"]}, "legend": null}, "fill": {"field": "m", "type": "nominal", "scale": {"domain": ["plus","star","fdia","hex","ftri","otri","otriu","odia"], "range": ["transparent","white","black","black","black","white","white","white"]}, "legend": null}, "size": {"field": "m", "type": "ordinal", "scale": {"domain": ["plus","star","fdia","hex","ftri","otri","otriu","odia"], "range": [220, 200, 150, 230, 210, 95, 95, 110]}, "legend": null}, "stroke": {"value": "black"}}},
  {"transform": [{"filter": "datum.p == 'H'"}], "mark": {"type": "point", "opacity": 0}, "encoding": {"x": {"field": "x", "type": "quantitative", "scale": {"domain": [-125, 128], "nice": false, "zero": false}, "axis": null}, "y": {"field": "v", "type": "quantitative", "scale": {"domain": [0, 300], "nice": false, "zero": false}, "axis": {"orient": "right", "values": [0, 100, 200, 300], "labels": false, "tickSize": 5, "title": null}}}},
  {"transform": [{"filter": "datum.p == 'H'"}], "mark": {"type": "point", "opacity": 0}, "encoding": {"x": {"field": "x", "type": "quantitative", "scale": {"domain": [-125, 128], "nice": false, "zero": false}, "axis": null}, "y": {"field": "v", "type": "quantitative", "scale": {"domain": [0, 300], "nice": false, "zero": false}, "axis": {"orient": "right", "values": [0,50,100,150,200,250,300], "labels": false, "domain": false, "tickSize": 3, "title": null}}}},
  {"data": {"values": [{}]}, "mark": {"type": "text", "text": "H", "fontSize": 36, "fontWeight": "bold", "align": "left", "baseline": "alphabetic", "color": "black"}, "encoding": {"x": {"datum": -117, "axis": null}, "y": {"datum": 251.6, "axis": null}}},
  {"data": {"values": [{}]}, "mark": {"type": "text", "text": "K/Zr", "fontSize": 24, "fontWeight": "bold", "align": "left", "baseline": "alphabetic", "color": "black"}, "encoding": {"x": {"datum": -79.4, "axis": null}, "y": {"datum": 199.4, "axis": null}}},
  {"data": {"values": [{}]}, "mark": {"type": "text", "text": ["Kfs-bearing", "veinlet present"], "fontSize": 13, "fontWeight": "bold", "align": "left", "baseline": "middle", "angle": 270, "lineHeight": 12, "color": "black"}, "encoding": {"x": {"datum": -19, "axis": null}, "y": {"datum": 140, "axis": null}}},
  {"data": {"values": [{}]}, "mark": {"type": "text", "text": ["Kfs-bearing", "veinlet present"], "fontSize": 13, "fontWeight": "bold", "align": "left", "baseline": "middle", "angle": 270, "lineHeight": 12, "color": "black"}, "encoding": {"x": {"datum": 69, "axis": null}, "y": {"datum": 82, "axis": null}}},
  {"data": {"values": [{}]}, "mark": {"type": "text", "text": "Qtz Vein", "fontSize": 13, "fontWeight": "bold", "align": "left", "baseline": "middle", "angle": 270, "color": "black"}, "encoding": {"x": {"datum": 33.7, "axis": null}, "y": {"datum": 111, "axis": null}}},
  {"data": {"values": [{}]}, "mark": {"type": "rule", "color": "black", "strokeWidth": 1}, "encoding": {"x": {"datum": -7.2, "axis": null}, "x2": {"datum": -3.8}, "y": {"datum": 111, "axis": null}, "y2": {"datum": 89}}},
  {"data": {"values": [{}]}, "mark": {"type": "point", "shape": "triangle-down", "filled": true, "color": "black", "size": 40, "angle": 337}, "encoding": {"x": {"datum": -3.5, "axis": null}, "y": {"datum": 86, "axis": null}}}
 ]}
]
}
